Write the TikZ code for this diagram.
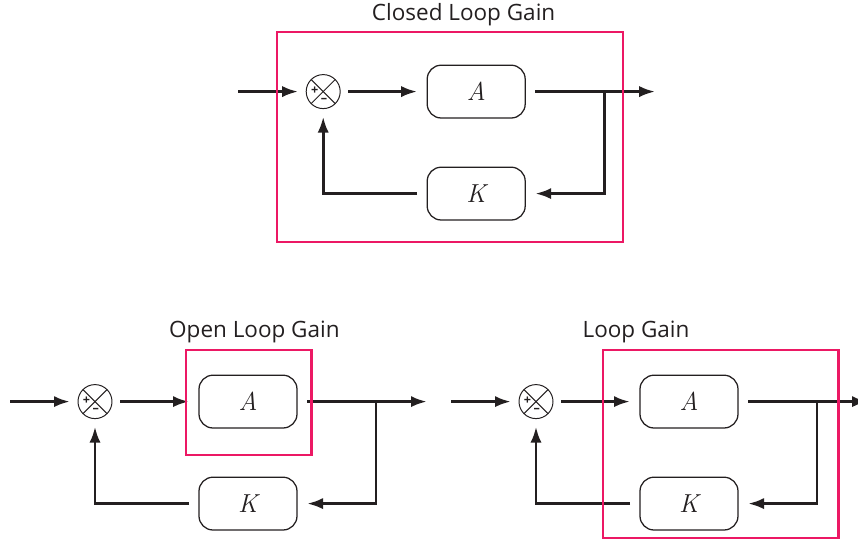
\documentclass[tikz,border=0pt]{standalone}
\usepackage{fontspec}
\setsansfont{Open Sans}
\usetikzlibrary{positioning,calc,arrows.meta}
\definecolor{ink}{RGB}{35,31,32}
\definecolor{gainred}{RGB}{236,24,100}
\tikzset{
	block/.style={draw=ink, line width=0.9pt, rounded corners=0.35cm, minimum width=2.45cm, minimum height=1.32cm, outer sep=0.25cm, text=ink, font=\rmfamily\itshape\fontsize{18.5}{21}\selectfont},
	sumnode/.style={draw=ink, circle, line width=0.7pt, minimum size=0.85cm, inner sep=0pt, outer sep=0.2cm},
	pm/.style={inner sep=0pt, text=ink, font=\sffamily\bfseries\fontsize{9}{9}\selectfont},
	signal/.style={draw=ink, line width=2.1pt, -{Latex[length=0.4cm,width=0.28cm]}},
	gainbox/.style={draw=gainred, line width=1.6pt},
	gaintitle/.style={anchor=base, text=ink, font=\sffamily\fontsize{16}{19}\selectfont}
}
% one feedback loop: sum, A, K and the signals
\def\gainloop#1(#2){%
	\node[sumnode] (#1sum) at (#2) {};
	\draw[ink, line width=0.7pt] ($(#1sum)+(45:0.425)$) -- ($(#1sum)+(225:0.425)$);
	\draw[ink, line width=0.7pt] ($(#1sum)+(135:0.425)$) -- ($(#1sum)+(-45:0.425)$);
	\node[pm] (#1plus) at ($(#1sum)+(-0.21,0.03)$) {+};
	\node[pm] (#1minus) at ($(#1sum)+(0.02,-0.22)$) {--};
	\node[block, right=3.825 of #1sum] (#1A) {A};
	\node[block, below=2.55 of #1A] (#1K) {K};
	\coordinate[left=2.125 of #1sum] (#1in);
	\coordinate[right=3.2 of #1A] (#1tap);
	\coordinate[right=4.475 of #1A] (#1out);
	\draw[signal] (#1in) -- (#1sum);
	\draw[signal] (#1sum) -- (#1A);
	\draw[signal] (#1A) -- (#1out);
	\draw[signal] (#1tap) |- (#1K);
	\draw[signal] (#1K) -| (#1sum);
}

\begin{document}
\begin{tikzpicture}[on grid]
	\useasboundingbox (0, 0) rectangle (21.45, 13.5);
	
	%%%%% closed loop %%%%%
	\gainloop cl(8.08, 11.21)
	\draw[gainbox] (6.925, 12.7) rectangle (15.575, 7.45);
	\node[gaintitle] (cltitle) at (11.59, 12.98) {Closed Loop Gain};
	
	%%%%% open loop %%%%%
	\gainloop ol(2.375, 3.46)
	\draw[gainbox] (4.65, 4.75) rectangle (7.79, 2.125);
	\node[gaintitle] (oltitle) at (6.36, 5.07) {Open Loop Gain};
	
	%%%%% loop gain %%%%%
	\gainloop lg(13.4, 3.46)
	\draw[gainbox] (15.075, 4.75) rectangle (20.96, 0.05);
	\node[gaintitle] (lgtitle) at (15.9, 5.07) {Loop Gain};
	
\end{tikzpicture}
\end{document}
